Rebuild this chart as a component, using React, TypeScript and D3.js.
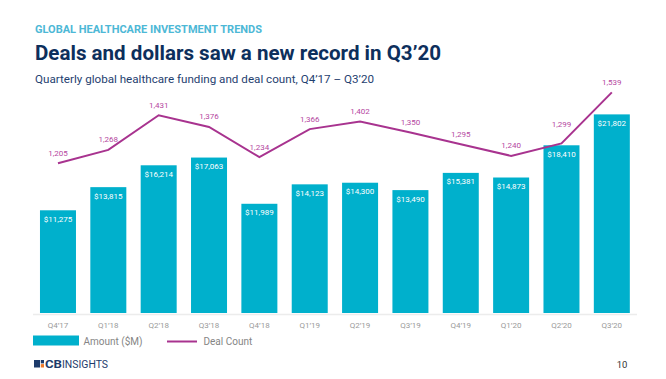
import React from "react";
import * as d3 from "d3";

const quarters = ["Q4’17","Q1’18","Q2’18","Q3’18","Q4’18","Q1’19","Q2’19","Q3’19","Q4’19","Q1’20","Q2’20","Q3’20"];
const amounts = [11275,13815,16214,17063,11989,14123,14300,13490,15381,14873,18410,21802];
const dealCounts = [1205,1268,1431,1376,1234,1366,1402,1350,1295,1240,1299,1539];

const W = 666, H = 379;
const BAR = "#00b0cc";
const LINE = "#a8338f";
const LINE_LABEL = "#b5479f";

export default function App() {
  const x = d3.scaleBand<string>().domain(quarters).range([32.8, 637]).paddingInner(0.285).paddingOuter(0.1425);
  const yBar = d3.scaleLinear().domain([0, 24000]).range([313, 313 - 24000 * 0.00911]);
  const yLine = d3.scaleLinear().domain([1200, 1550]).range([164.4, 90.0]);
  const cx = (q: string) => (x(q) as number) + x.bandwidth() / 2;
  const line = d3.line<number>().x((_, i) => cx(quarters[i])).y((d) => yLine(d));
  const font = "Roboto, 'Noto Sans', sans-serif";
  const fmt = d3.format(",");

  return (
    <svg width={W} height={H} style={{ position: "absolute", left: 0, top: 0 }} fontFamily={font}>
      <rect width={W} height={H} fill="#fff" />
      <text x={35} y={32.5} fontSize={10.2} fontWeight={700} fill="#4db8d6" textLength={227} lengthAdjust="spacingAndGlyphs">GLOBAL HEALTHCARE INVESTMENT TRENDS</text>
      <text x={35} y={60} fontSize={20.5} fontWeight={700} fill="#0d2f5c" textLength={406} lengthAdjust="spacingAndGlyphs">Deals and dollars saw a new record in Q3’20</text>
      <text x={35} y={82.5} fontSize={11} fill="#1f4170" textLength={339} lengthAdjust="spacingAndGlyphs">Quarterly global healthcare funding and deal count, Q4’17 – Q3’20</text>

      {amounts.map((v, i) => {
        const q = quarters[i];
        return (
          <g key={q}>
            <rect x={x(q)} y={yBar(v)} width={x.bandwidth()} height={yBar(0) - yBar(v)} fill={BAR} />
            <text x={cx(q)} y={yBar(v) + 11.5} fontSize={8} fill="#fff" textAnchor="middle">{"$" + fmt(v)}</text>
          </g>
        );
      })}

      <line x1={33} x2={637} y1={314.5} y2={314.5} stroke="#ececec" strokeWidth={1.5} />
      {quarters.map((q) => (
        <text key={q} x={cx(q)} y={327.5} fontSize={8} fill="#9a9a9a" textAnchor="middle">{q}</text>
      ))}

      <path d={line(dealCounts) || ""} fill="none" stroke={LINE} strokeWidth={2} />
      {dealCounts.map((v, i) => {
        const q = quarters[i];
        const next = dealCounts[i + 1];
        const steep = next !== undefined && yLine(v) - yLine(next) > 40;
        return (
          <text key={q} x={cx(q)} y={yLine(v) - (steep ? 16 : 7.5)} fontSize={8} fill={LINE_LABEL} textAnchor="middle">{fmt(v)}</text>
        );
      })}

      <rect x={33} y={335.5} width={46} height={10} fill={BAR} />
      <text x={83.5} y={344.5} fontSize={10} fill="#858585">Amount ($M)</text>
      <line x1={167} x2={197} y1={341.5} y2={341.5} stroke={LINE} strokeWidth={2} />
      <text x={203.5} y={344.5} fontSize={10} fill="#858585">Deal Count</text>

      <g>
        <rect x={34} y={360} width={6} height={7.5} fill="#1d3b6b" />
        <rect x={40.8} y={360} width={3.2} height={3.4} fill="#1d3b6b" />
        <rect x={40.8} y={364.1} width={3.2} height={3.4} fill="#f07a2a" />
        <text x={45} y={367.5} fontSize={10.5} fontWeight={700} fill="#1d3b6b" textLength={17} lengthAdjust="spacingAndGlyphs">CB</text>
        <text x={62} y={367.5} fontSize={10.5} fill="#1d3b6b" textLength={46} lengthAdjust="spacingAndGlyphs">INSIGHTS</text>
      </g>
      <text x={622} y={367.5} fontSize={9.5} fill="#333" textAnchor="middle">10</text>
    </svg>
  );
}
